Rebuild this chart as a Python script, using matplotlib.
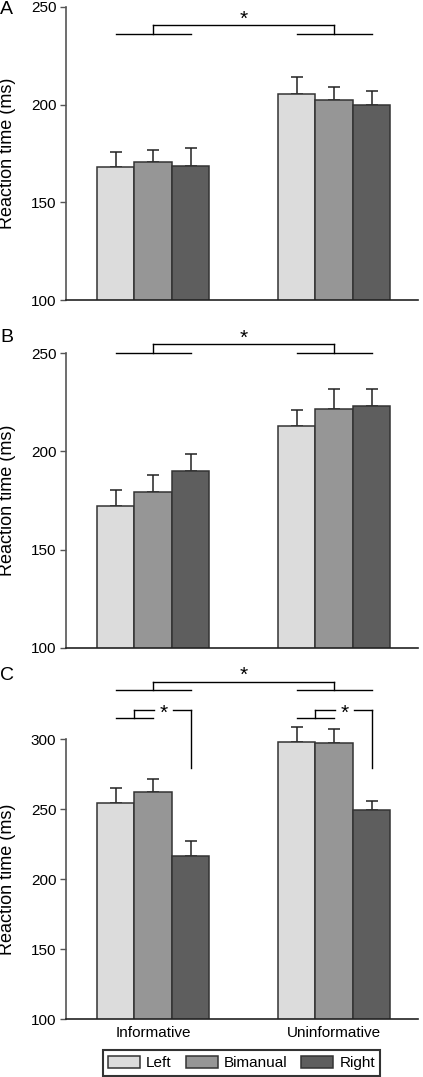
import numpy as np
import matplotlib
matplotlib.use("Agg")
import matplotlib.pyplot as plt

plt.rcParams['font.family'] = ['Liberation Sans', 'DejaVu Sans']

# conditions on the x axis, hands as the bar series
conditions = ["Informative", "Uninformative"]
hands = ["Left", "Bimanual", "Right"]
colors = ["#dcdcdc", "#969696", "#5e5e5e"]

# mean reaction times (ms), rows: Left, Bimanual, Right
rt_A = [[168.2, 205.3], [170.8, 202.2], [168.6, 199.7]]
rt_B = [[172.3, 213.1], [179.3, 221.8], [189.9, 223.3]]
rt_C = [[254.7, 297.9], [262.6, 297.1], [216.9, 249.3]]

# upper error bars (ms)
se_A = [[7.7, 8.9], [6.0, 6.7], [9.1, 7.1]]
se_B = [[7.9, 8.2], [8.5, 10.2], [8.6, 8.7]]
se_C = [[10.3, 10.7], [8.8, 10.0], [10.2, 6.6]]

W = 423 / 100.0
H = 1077 / 100.0
fig = plt.figure(figsize=(W, H), dpi=100)

bw = 0.207
x = np.arange(len(conditions))


def px_axes(left, top, right, bottom):
    return fig.add_axes([left / 423.0, 1 - bottom / 1077.0,
                         (right - left) / 423.0, (bottom - top) / 1077.0])


def draw_panel(ax, rt, se, ymax, letter, ly):
    for k in range(3):
        xs = x + (k - 1) * bw
        ax.bar(xs, rt[k], width=bw, color=colors[k], edgecolor="#333333",
               linewidth=1.1, zorder=2, label=hands[k])
        eb = ax.errorbar(xs, rt[k], yerr=[np.zeros(2), se[k]], fmt="none",
                         ecolor="#222222", elinewidth=1.1, capsize=4.5,
                         capthick=1.1, zorder=1)
        for art in eb.lines[1]:
            art.set_clip_on(False)
        for art in eb.lines[2]:
            art.set_clip_on(False)
    ax.set_xlim(-0.482, 1.463)
    ax.set_ylim(100, ymax)
    ax.set_yticks(np.arange(100, ymax + 1, 50))
    ax.tick_params(axis="y", direction="out", length=4, width=1,
                   color="#555555", labelsize=11, pad=3)
    ax.tick_params(axis="x", length=0, labelsize=11, pad=5)
    ax.set_xticks(x)
    ax.set_xticklabels([])
    for s in ["top", "right"]:
        ax.spines[s].set_visible(False)
    ax.spines["left"].set_color("#555555")
    ax.spines["bottom"].set_color("#222222")
    ax.spines["left"].set_linewidth(1.2)
    ax.spines["bottom"].set_linewidth(1.2)
    ax.set_ylabel("Reaction time (ms)", fontsize=13)
    ax.yaxis.set_label_coords(-0.142, 0.5)
    fig.text(0.0, ly, letter, fontsize=14, va="center", ha="left")


def main_bracket(ax, y_low, y_top, y_star):
    kw = dict(color="black", lw=1, clip_on=False)
    for g in x:
        ax.plot([g - bw, g + bw], [y_low, y_low], **kw)
        ax.plot([g, g], [y_low, y_top], **kw)
    ax.plot([x[0], x[1]], [y_top, y_top], **kw)
    ax.text(0.5, y_star, "*", ha="center", va="center", fontsize=15,
            clip_on=False)


def sub_bracket(ax, g, y_low, y_top, y_drop):
    kw = dict(color="black", lw=1, clip_on=False)
    ax.plot([g - bw, g], [y_low, y_low], **kw)
    ax.plot([g - bw / 2, g - bw / 2], [y_low, y_top], **kw)
    ax.plot([g - bw / 2, g + 0.004], [y_top, y_top], **kw)
    ax.plot([g + 0.108, g + bw], [y_top, y_top], **kw)
    ax.plot([g + bw, g + bw], [y_top, y_drop], **kw)
    ax.text(g + 0.056, y_top - 2.5, "*", ha="center", va="center",
            fontsize=15)


axA = px_axes(66, 7, 418, 300)
draw_panel(axA, rt_A, se_A, 250, "A", 1 - 10 / 1077.0)
main_bracket(axA, 236.2, 240.8, 243.5)

axB = px_axes(66, 353.3, 418, 647.7)
draw_panel(axB, rt_B, se_B, 250, "B", 1 - 338 / 1077.0)
main_bracket(axB, 250, 254.6, 257.5)

axC = px_axes(66, 739.3, 418, 1019.3)
draw_panel(axC, rt_C, se_C, 300, "C", 1 - 676 / 1077.0)
axC.set_xticklabels(conditions)
main_bracket(axC, 335.2, 341.1, 345.5)
for g in x:
    sub_bracket(axC, g, 315.2, 320.9, 279.3)

handles, labels = axC.get_legend_handles_labels()
leg = fig.legend(handles, labels, loc="center", ncol=3,
                 bbox_to_anchor=(241.5 / 423.0, 1 - 1063 / 1077.0),
                 fontsize=11, frameon=True, fancybox=False,
                 handlelength=2.1, handleheight=0.9, handletextpad=0.4,
                 columnspacing=0.9, borderpad=0.35)
leg.get_frame().set_edgecolor("black")
leg.get_frame().set_linewidth(1.5)

fig.savefig("out.png", dpi=100)
